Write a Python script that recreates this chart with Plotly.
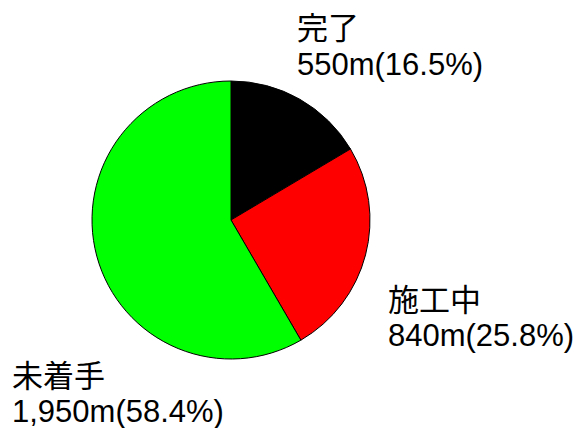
import plotly.graph_objects as go

categories = ["完了", "施工中", "未着手"]
lengths_m = [550, 840, 1950]
value_labels = ["550m", "840m", "1,950m"]
percent_labels = ["16.5%", "25.8%", "58.4%"]
colors = ["#000000", "#ff0000", "#00ff00"]

W, H = 579, 428
cx, cy, r = 231, 220, 139

fig = go.Figure(go.Pie(
    labels=categories,
    values=lengths_m,
    sort=False,
    direction="clockwise",
    rotation=0,
    marker=dict(colors=colors, line=dict(color="#000000", width=1)),
    textinfo="none",
    hoverinfo="label+value",
    showlegend=False,
    domain=dict(x=[(cx - r) / W, (cx + r) / W], y=[1 - (cy + r) / H, 1 - (cy - r) / H]),
))

# (left x, centre y of line 1, centre y of line 2) in screenshot pixels
label_pos = [(296, 28, 64), (387, 300, 335), (11, 376, 411)]
font = dict(size=31, color="#000000", family="Liberation Sans, Arial, Noto Sans CJK JP")
for cat, vl, pl, (lx, y1, y2) in zip(categories, value_labels, percent_labels, label_pos):
    for txt, yy in ((cat, y1), (f"{vl}({pl})", y2)):
        fig.add_annotation(
            x=lx / W, y=1 - yy / H, xref="paper", yref="paper",
            xanchor="left", yanchor="middle", align="left", showarrow=False,
            borderpad=0, text=txt, font=font,
        )

fig.update_layout(
    width=W, height=H,
    margin=dict(l=0, r=0, t=0, b=0),
    paper_bgcolor="white", plot_bgcolor="white",
)
fig.write_html("out.html", config={"displayModeBar": False},
               post_script="document.body.style.margin='0';")
